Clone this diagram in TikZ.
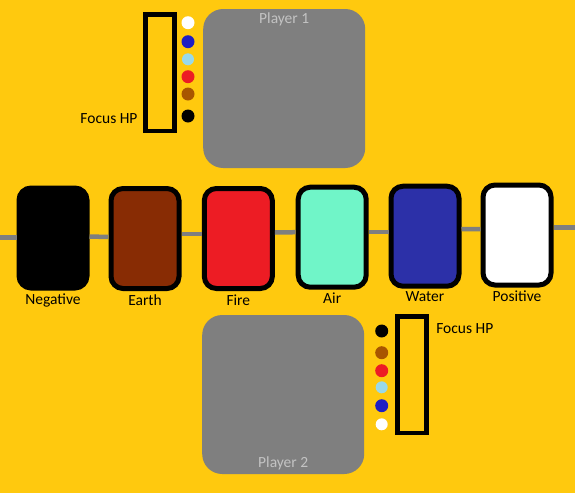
\documentclass[tikz,border=0pt]{standalone}
\usepackage{fontspec}
\setmainfont{Carlito}
\usetikzlibrary{calc}

\definecolor{bgyellow}{RGB}{255,201,14}
\definecolor{boardgray}{RGB}{127,127,127}
\definecolor{namegray}{RGB}{195,195,195}
\definecolor{earthbrown}{RGB}{136,44,4}
\definecolor{firered}{RGB}{237,28,36}
\definecolor{airgreen}{RGB}{112,245,200}
\definecolor{waterblue}{RGB}{44,48,168}
\definecolor{dotblue}{RGB}{30,30,196}
\definecolor{dotlight}{RGB}{153,217,234}
\definecolor{dotbrown}{RGB}{168,86,0}

\begin{document}
\begin{tikzpicture}[x=1pt,y=-1pt,inner sep=0pt,outer sep=0pt,
    every node/.style={font=\fontsize{15.5}{18}\selectfont},
    card/.style={draw=black,line width=5pt,outer sep=2.5pt,rounded corners=12pt,
        minimum width=68pt,minimum height=100pt},
    board/.style={fill=boardgray,rounded corners=20pt,
        minimum width=162pt,minimum height=159pt},
    hpbar/.style={draw=black,line width=4.5pt,minimum width=29pt,minimum height=116.5pt},
    dot/.style={circle,minimum size=13pt},
    link/.style={draw=boardgray,line width=4.5pt}]

    % background
    \fill[bgyellow] (0,0) rectangle (575,493);
    \useasboundingbox (0,0) rectangle (575,493);

    % player 1
    \node[board] (p1) at (284.2,88.5) {};
    \node[anchor=north, text=namegray] (p1_cap) at ($(p1.north)+(0,3.5)$) {Player 1};
    \node[hpbar] (hp1) at (160,72.8) {};
    \node[anchor=east] (hp1_cap) at ($(hp1.south west)+(-8,-12)$) {Focus HP};
    \node[dot, fill=white] (p1_d1) at (188,22.7) {};
    \node[dot, fill=dotblue] (p1_d2) at (188,41.7) {};
    \node[dot, fill=dotlight, minimum size=12pt] (p1_d3) at (188,59.3) {};
    \node[dot, fill=firered] (p1_d4) at (188,76.7) {};
    \node[dot, fill=dotbrown] (p1_d5) at (188,94) {};
    \node[dot, fill=black] (p1_d6) at (188,116) {};

    % cards
    \node[card, fill=black] (neg) at (53,238) {};
    \node[anchor=north] (neg_cap) at ($(neg.south)+(0,3)$) {Negative};
    \node[card, fill=earthbrown] (earth) at (145,238.5) {};
    \node[anchor=north] (earth_cap) at ($(earth.south)+(0,4)$) {Earth};
    \node[card, fill=firered] (fire) at (238.3,238.5) {};
    \node[anchor=north] (fire_cap) at ($(fire.south)+(0,4)$) {Fire};
    \node[card, fill=airgreen] (air) at (332.2,237.2) {};
    \node[anchor=north] (air_cap) at ($(air.south)+(0,3)$) {Air};
    \node[card, fill=waterblue] (water) at (425,236.2) {};
    \node[anchor=north] (water_cap) at ($(water.south)+(0,3)$) {Water};
    \node[card, fill=white] (pos) at (517,235) {};
    \node[anchor=north] (pos_cap) at ($(pos.south)+(0,3)$) {Positive};

    % links
    \coordinate (left_end) at (0,237.3);
    \coordinate (right_end) at (575,227.7);
    \draw[link] (left_end) -- (neg.west |- left_end);
    \draw[link] ([yshift=1.5pt]neg.east) -- ([yshift=1.5pt]earth.west);
    \draw[link] ([yshift=4.5pt]earth.east) -- ([yshift=4.5pt]fire.west);
    \draw[link] ([yshift=6pt]fire.east) -- ([yshift=5pt]air.west);
    \draw[link] ([yshift=5pt]air.east) -- ([yshift=4pt]water.west);
    \draw[link] ([yshift=7pt]water.east) -- ([yshift=6pt]pos.west);
    \draw[link] (pos.east |- right_end) -- (right_end);

    % player 2
    \node[board] (p2) at (283.2,394.5) {};
    \node[anchor=south, text=namegray] (p2_cap) at ($(p2.south)+(0,-4)$) {Player 2};
    \node[hpbar] (hp2) at (411.8,374.8) {};
    \node[anchor=west] (hp2_cap) at ($(hp2.north east)+(10,12)$) {Focus HP};
    \node[dot, fill=black] (p2_d1) at (381.7,331) {};
    \node[dot, fill=dotbrown] (p2_d2) at (381.7,352.7) {};
    \node[dot, fill=firered] (p2_d3) at (381.7,370.7) {};
    \node[dot, fill=dotlight, minimum size=12pt] (p2_d4) at (381.7,387.3) {};
    \node[dot, fill=dotblue] (p2_d5) at (381.7,405.7) {};
    \node[dot, fill=white, minimum size=12pt] (p2_d6) at (381.7,424.3) {};

\end{tikzpicture}
\end{document}
